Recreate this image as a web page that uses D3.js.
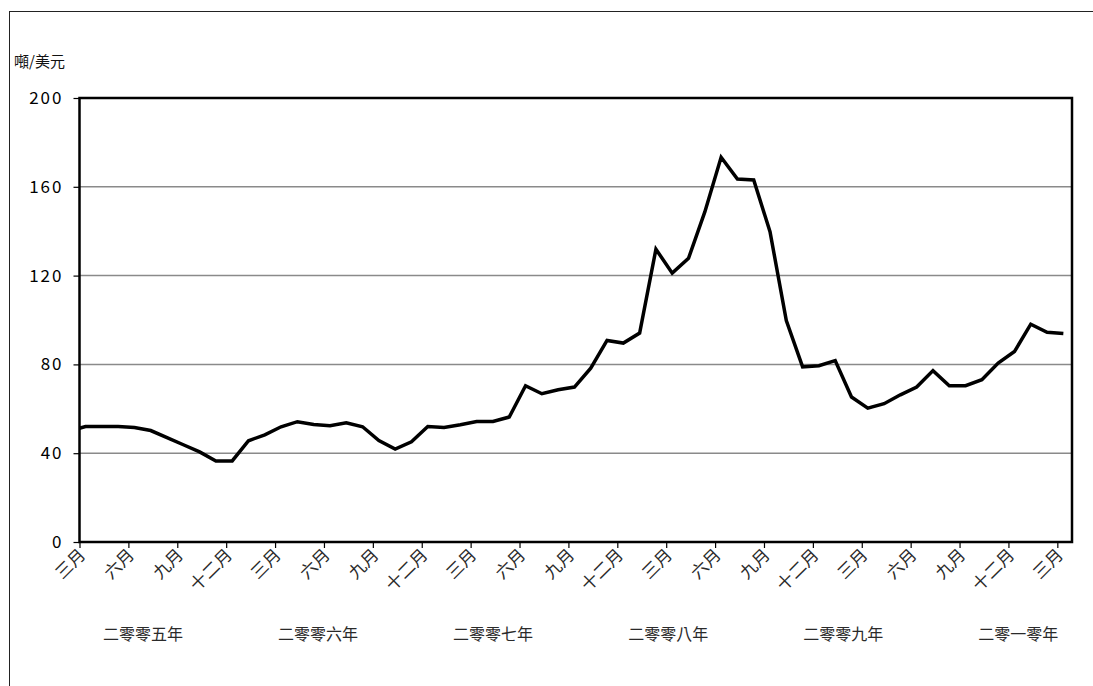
<!DOCTYPE html>
<meta charset="utf-8">
<script src="https://cdn.jsdelivr.net/npm/d3@7"></script>
<style>
  body { margin: 0; background: #fff; }
  text { font-family: "Noto Sans CJK TC", "Noto Sans CJK SC", sans-serif; }
</style>
<div id="vis"></div>
<script>
// monthly price, starting Feb 2005 (first point sits just left of the axis and is clipped)
const prices = [
  50.0,
  52.0, 52.0, 52.0, 51.6, 50.2, 47.0, 43.8, 40.6, 36.5, 36.5,
  45.6, 48.3, 51.9, 54.2, 52.9, 52.4, 53.7, 51.9, 45.7, 41.9,
  45.1, 52.0, 51.6, 52.8, 54.3, 54.3, 56.3, 70.4, 66.8, 68.6,
  69.8, 78.3, 90.8, 89.6, 94.1, 131.9, 121.1, 127.8, 148.7, 173.3,
  163.5, 163.1, 139.8, 99.7, 78.9, 79.4, 81.7, 65.3, 60.3, 62.3,
  66.3, 69.8, 77.2, 70.4, 70.4, 73.1, 80.6, 85.8, 98.1, 94.5,
  93.9
];
const firstMonth = -1;   // Feb 2005, counted from Mar 2005 = 0
const monthNames = ["三月", "六月", "九月", "十二月"];
const yearNames = ["二零零五年", "二零零六年", "二零零七年", "二零零八年", "二零零九年", "二零一零年"];
const yTicks = [0, 40, 80, 120, 160, 200];
const unitLabel = "噸/美元";

const W = 1093, H = 686;
const margin = {top: 98, right: 21, bottom: 144, left: 79.5};

const svg = d3.select("#vis").append("svg")
  .attr("width", W).attr("height", H);

// outer frame
svg.append("rect")
  .attr("x", 9.5).attr("y", 11.5)
  .attr("width", W + 20).attr("height", H + 20)
  .attr("fill", "none").attr("stroke", "#222").attr("stroke-width", 1);

const x = d3.scaleLinear()
  .domain([0, 60.9])
  .range([margin.left, W - margin.right]);

const y = d3.scaleLinear()
  .domain([0, 200])
  .range([H - margin.bottom, margin.top]);

const pointOffset = 0.37; // points sit a little after each month tick

// grid
svg.append("g").selectAll("line")
  .data(yTicks.filter(d => d > 0 && d < 200))
  .join("line")
  .attr("x1", x(0)).attr("x2", x(60.9))
  .attr("y1", d => y(d)).attr("y2", d => y(d))
  .attr("stroke", "#8a8a8a").attr("stroke-width", 1.5);

// y axis labels + ticks
const yAxis = d3.axisLeft(y).tickValues(yTicks).tickSize(6).tickPadding(10);
const gy = svg.append("g").attr("transform", `translate(${x(0)},0)`).call(yAxis);
gy.select(".domain").remove();
gy.selectAll(".tick line").attr("stroke", "#000").attr("stroke-width", 1.2);
gy.selectAll(".tick text")
  .attr("font-family", "'DejaVu Sans', Verdana, sans-serif")
  .attr("font-size", 17).attr("letter-spacing", 2).attr("fill", "#000");

// x axis ticks + rotated month labels
const xTicks = d3.range(0, 61, 3);
const xAxis = d3.axisBottom(x).tickValues(xTicks).tickSize(6).tickFormat(() => "");
const gx = svg.append("g").attr("transform", `translate(0,${y(0)})`).call(xAxis);
gx.select(".domain").remove();
gx.selectAll(".tick line").attr("stroke", "#000").attr("stroke-width", 1.2);

svg.append("g").selectAll("text")
  .data(xTicks)
  .join("text")
  .attr("transform", d => `translate(${x(d) + 7},${y(0) + 14}) rotate(-45)`)
  .attr("text-anchor", "end")
  .attr("font-size", 17).attr("fill", "#2a2a2a")
  .text((d, i) => monthNames[i % 4]);

// year labels
svg.append("g").selectAll("text")
  .data(yearNames)
  .join("text")
  .attr("x", (d, i) => x(3.9 + i * 10.74))
  .attr("y", 640)
  .attr("text-anchor", "middle")
  .attr("font-size", 16).attr("fill", "#2a2a2a")
  .text(d => d);

// unit label
svg.append("text")
  .attr("x", 14).attr("y", 67)
  .attr("font-size", 15).attr("fill", "#111")
  .text(unitLabel);

// clip for line
svg.append("clipPath").attr("id", "plot")
  .append("rect")
  .attr("x", x(0)).attr("y", y(200))
  .attr("width", x(60.9) - x(0)).attr("height", y(0) - y(200));

const line = d3.line()
  .x((d, i) => x(firstMonth + i + pointOffset))
  .y(d => y(d));

svg.append("path")
  .datum(prices)
  .attr("clip-path", "url(#plot)")
  .attr("d", line)
  .attr("fill", "none")
  .attr("stroke", "#000")
  .attr("stroke-width", 3.5)
  .attr("stroke-linejoin", "miter");

// plot frame
svg.append("rect")
  .attr("x", x(0)).attr("y", y(200))
  .attr("width", x(60.9) - x(0)).attr("height", y(0) - y(200))
  .attr("fill", "none").attr("stroke", "#000").attr("stroke-width", 2.5);
</script>
